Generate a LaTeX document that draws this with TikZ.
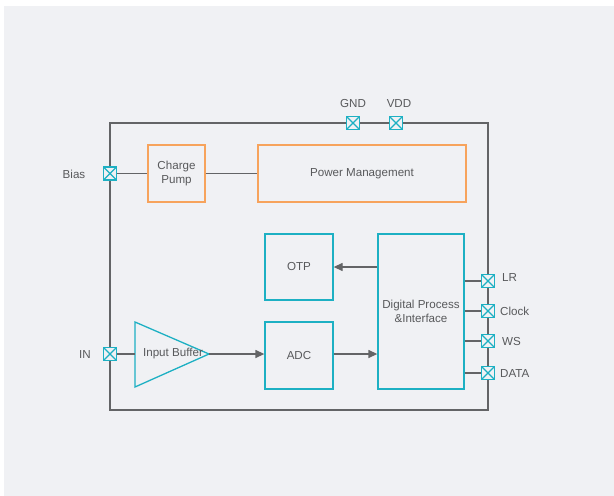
\documentclass[tikz,border=0pt]{standalone}
\usepackage{fontspec}
\setmainfont{Liberation Sans}
\usetikzlibrary{arrows.meta}
\definecolor{bgc}{HTML}{F0F1F4}
\definecolor{teal}{HTML}{1DB0C3}
\definecolor{orng}{HTML}{F7A35C}
\definecolor{wire}{HTML}{636466}
\definecolor{txt}{HTML}{58595B}
\tikzset{
  obox/.style={draw=orng, line width=1.3pt, inner sep=0pt, text=txt, font=\fontsize{11.6}{14}\selectfont, align=center},
  tbox/.style={draw=teal, line width=1.3pt, inner sep=0pt, text=txt, font=\fontsize{11.6}{14}\selectfont, align=center},
  pad/.style={draw=teal, fill=bgc, line width=1.2pt, minimum size=13pt, inner sep=0pt, path picture={\draw[teal, line width=1.2pt] (path picture bounding box.south west) -- (path picture bounding box.north east) (path picture bounding box.north west) -- (path picture bounding box.south east);}},
  lbl/.style={text=txt, font=\fontsize{11.6}{14}\selectfont, inner sep=0pt},
  wireline/.style={draw=wire, line width=1.3pt},
  arr/.style={wireline, -{Triangle[length=9pt,width=8pt]}}
}
\begin{document}
\begin{tikzpicture}[x=1pt,y=-1pt]
\useasboundingbox (0,0) rectangle (614,496);
\fill[bgc] (4,6) rectangle (614,496);
% chip outline
\draw[wireline] (110,123) rectangle (488,410);
% blocks
\node[obox, minimum width=57pt, minimum height=57pt] (cp) at (176.5,173.5) {Charge\\Pump};
\node[obox, minimum width=208pt, minimum height=57pt] (pm) at (362,173.5) {Power Management};
\node[tbox, minimum width=68pt, minimum height=66pt] (otp) at (299,267) {OTP};
\node[tbox, minimum width=68pt, minimum height=67pt] (adc) at (299,355.5) {ADC};
\node[tbox, minimum width=86pt, minimum height=155pt] (dp) at (421,311.5) {Digital Process\\\&Interface};
% input buffer triangle
\coordinate (ibl) at (135,354);
\coordinate (ibt) at (209,354);
\draw[teal, line width=1.3pt] (135,322) -- (ibt) -- (135,387) -- cycle;
\node[lbl] (ib) at (173,354) {Input Buffer};
% pads
\node[pad] (gnd) at (353,123) {};
\node[pad] (vdd) at (396,123) {};
\node[pad] (bias) at (110,173.5) {};
\node[pad] (in) at (110,354) {};
\node[pad] (lr) at (488,281) {};
\node[pad] (clk) at (488,311) {};
\node[pad] (ws) at (488,341) {};
\node[pad] (data) at (488,373) {};
% labels
\node[lbl] (gndl) at (353,104) {GND};
\node[lbl] (vddl) at (399,104) {VDD};
\node[lbl] (biasl) at (74,174) {Bias};
\node[lbl] (inl) at (85,355) {IN};
\node[lbl, anchor=west] (lrl) at (502,278) {LR};
\node[lbl, anchor=west] (clkl) at (500,311) {Clock};
\node[lbl, anchor=west] (wsl) at (502,342) {WS};
\node[lbl, anchor=west] (datal) at (500,374) {DATA};
% connections
\draw[wireline] (bias.east) -- (cp.west);
\draw[wireline] (cp.east) -- (pm.west);
\draw[wireline] (in.east) -- (ibl);
\draw[arr] (ibt) -- (adc.west |- ibt);
\draw[arr] (adc.east |- ibt) -- (dp.west |- ibt);
\draw[arr] (dp.west |- otp.east) -- (otp.east);
\draw[wireline] (dp.east |- lr.west) -- (lr.west);
\draw[wireline] (dp.east |- clk.west) -- (clk.west);
\draw[wireline] (dp.east |- ws.west) -- (ws.west);
\draw[wireline] (dp.east |- data.west) -- (data.west);
\end{tikzpicture}
\end{document}
